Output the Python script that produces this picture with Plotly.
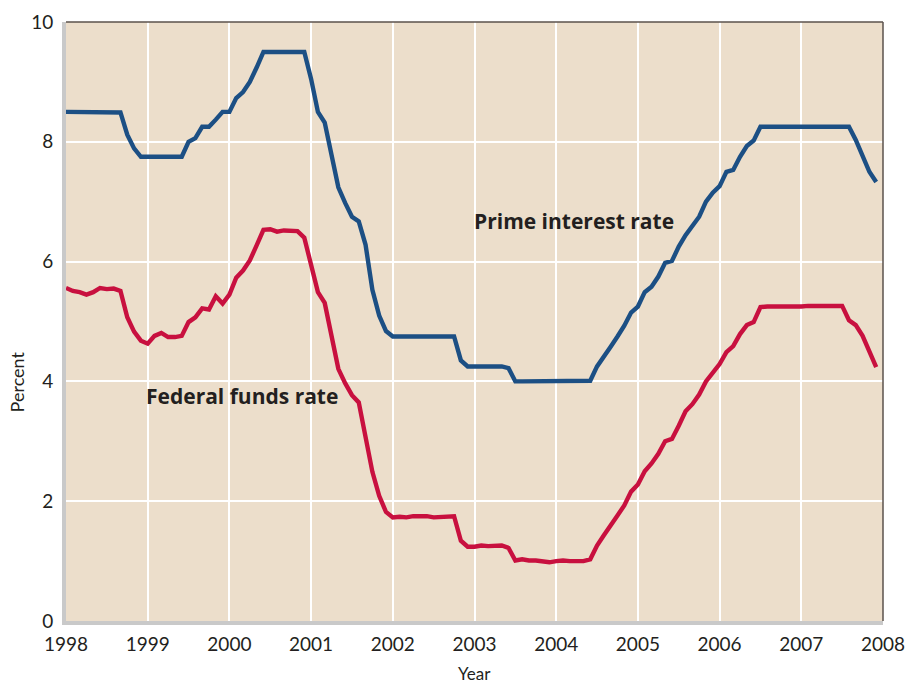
import plotly.graph_objects as go

# Monthly observations, Jan 1998 .. Dec 2007
years = list(range(1998, 2008))
months = [y + m / 12 for y in years for m in range(12)]

fed_funds = [
    5.56, 5.51, 5.49, 5.45, 5.49, 5.56, 5.54, 5.55, 5.51, 5.07, 4.83, 4.68,
    4.63, 4.76, 4.81, 4.74, 4.74, 4.76, 4.99, 5.07, 5.22, 5.20, 5.42, 5.30,
    5.45, 5.73, 5.85, 6.02, 6.27, 6.53, 6.54, 6.50, 6.52, 6.51, 6.51, 6.40,
    5.98, 5.49, 5.31, 4.80, 4.21, 3.97, 3.77, 3.65, 3.07, 2.49, 2.09, 1.82,
    1.73, 1.74, 1.73, 1.75, 1.75, 1.75, 1.73, 1.74, 1.75, 1.75, 1.34, 1.24,
    1.24, 1.26, 1.25, 1.26, 1.26, 1.22, 1.01, 1.03, 1.01, 1.01, 1.00, 0.98,
    1.00, 1.01, 1.00, 1.00, 1.00, 1.03, 1.26, 1.43, 1.61, 1.76, 1.93, 2.16,
    2.28, 2.50, 2.63, 2.79, 3.00, 3.04, 3.26, 3.50, 3.62, 3.78, 4.00, 4.16,
    4.29, 4.49, 4.59, 4.79, 4.94, 4.99, 5.24, 5.25, 5.25, 5.25, 5.25, 5.24,
    5.25, 5.26, 5.26, 5.25, 5.25, 5.25, 5.26, 5.02, 4.94, 4.76, 4.49, 4.24,
]

prime = [
    8.50, 8.50, 8.50, 8.50, 8.50, 8.50, 8.50, 8.50, 8.49, 8.12, 7.89, 7.75,
    7.75, 7.75, 7.75, 7.75, 7.75, 7.75, 8.00, 8.06, 8.25, 8.25, 8.37, 8.50,
    8.50, 8.73, 8.83, 9.00, 9.24, 9.50, 9.50, 9.50, 9.50, 9.50, 9.50, 9.50,
    9.05, 8.50, 8.32, 7.80, 7.24, 6.98, 6.75, 6.67, 6.28, 5.53, 5.10, 4.84,
    4.75, 4.75, 4.75, 4.75, 4.75, 4.75, 4.75, 4.75, 4.75, 4.75, 4.35, 4.25,
    4.25, 4.25, 4.25, 4.25, 4.25, 4.22, 4.00, 4.00, 4.00, 4.00, 4.00, 4.00,
    4.00, 4.00, 4.00, 4.00, 4.00, 4.01, 4.25, 4.43, 4.58, 4.75, 4.93, 5.15,
    5.25, 5.49, 5.58, 5.75, 5.98, 6.01, 6.25, 6.44, 6.59, 6.75, 7.00, 7.15,
    7.26, 7.50, 7.53, 7.75, 7.93, 8.02, 8.25, 8.25, 8.25, 8.25, 8.25, 8.25,
    8.25, 8.25, 8.25, 8.25, 8.25, 8.25, 8.25, 8.25, 8.03, 7.74, 7.50, 7.33,
]

x_ticks = list(range(1998, 2009))
y_ticks = [0, 2, 4, 6, 8, 10]

FONT = "Lato, 'Open Sans', sans-serif"
BOLD_FONT = "'Open Sans', Lato, sans-serif"
TEXT = "#231f20"
BLUE = "#1c4f84"
RED = "#c8103f"

fig = go.Figure()
fig.add_trace(go.Scatter(x=months, y=prime, mode="lines", name="Prime interest rate",
                         line=dict(color=BLUE, width=4.4), hoverinfo="x+y"))
fig.add_trace(go.Scatter(x=months, y=fed_funds, mode="lines", name="Federal funds rate",
                         line=dict(color=RED, width=4.4), hoverinfo="x+y"))

fig.update_layout(
    width=905, height=685,
    margin=dict(l=66, r=22, t=22, b=64),
    paper_bgcolor="white",
    plot_bgcolor="#ecdecb",
    showlegend=False,
    font=dict(family=FONT, color=TEXT, size=17),
)
fig.update_xaxes(
    range=[1998, 2008], tickvals=x_ticks, ticktext=[str(v) for v in x_ticks],
    showgrid=True, gridcolor="white", gridwidth=1.5, zeroline=False,
    showline=True, linecolor="#c9c9c9", linewidth=4, automargin=False,
    ticklabeloverflow="allow",
    ticks="outside", ticklen=3, tickcolor="rgba(0,0,0,0)",
    tickfont=dict(size=19, color=TEXT, family=FONT),
)
fig.update_yaxes(
    range=[0, 10], tickvals=y_ticks, ticktext=[str(v) for v in y_ticks],
    showgrid=True, gridcolor="white", gridwidth=1.5, zeroline=False,
    showline=True, linecolor="#c9c9c9", linewidth=4, automargin=False,
    ticklabeloverflow="allow",
    ticks="outside", ticklen=5, tickcolor="rgba(0,0,0,0)",
    tickfont=dict(size=19, color=TEXT, family=FONT),
)

# top and right thin dark frame lines
fig.add_shape(type="line", xref="paper", yref="paper", x0=0, x1=1, y0=1, y1=1,
              line=dict(color="#5b524c", width=1.5))
fig.add_shape(type="line", xref="paper", yref="paper", x0=1, x1=1, y0=0, y1=1,
              line=dict(color="#5b524c", width=1.5))

fig.add_annotation(x=2004.22, y=6.67, text="<b>Prime interest rate</b>", showarrow=False,
                   xanchor="center", yanchor="middle", font=dict(size=21, color=TEXT, family=BOLD_FONT))
fig.add_annotation(x=2000.15, y=3.75, text="<b>Federal funds rate</b>", showarrow=False,
                   xanchor="center", yanchor="middle", font=dict(size=21, color=TEXT, family=BOLD_FONT))

fig.add_annotation(xref="paper", yref="paper", x=-0.06, y=0.4, text="Percent", textangle=-90,
                   showarrow=False, xanchor="center", yanchor="middle",
                   font=dict(size=18, color=TEXT, family=FONT))
fig.add_annotation(xref="paper", yref="paper", x=0.5, y=-0.087, text="Year",
                   showarrow=False, xanchor="center", yanchor="middle",
                   font=dict(size=17, color=TEXT, family=FONT))

fig.write_html("out.html", config={"displayModeBar": False},
               post_script="document.body.style.margin='0';document.body.style.overflow='hidden';")
